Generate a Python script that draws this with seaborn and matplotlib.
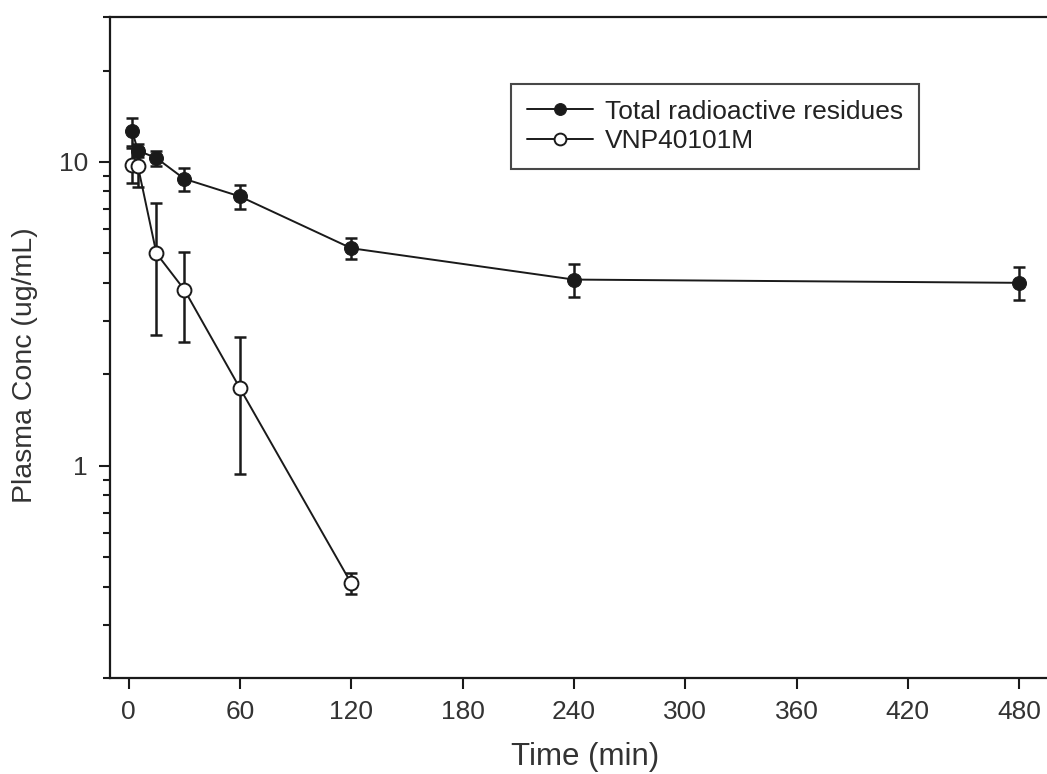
import seaborn as sns
import matplotlib.pyplot as plt
from matplotlib.ticker import FixedLocator, LogLocator, NullFormatter, FixedFormatter

# Plasma concentration vs time (mean +/- SD)
time_total = [2, 5, 15, 30, 60, 120, 240, 480]
conc_total = [12.6, 10.9, 10.3, 8.8, 7.7, 5.2, 4.1, 4.0]
sd_total = [1.35, 0.55, 0.6, 0.75, 0.7, 0.4, 0.5, 0.5]

time_vnp = [2, 5, 15, 30, 60, 120]
conc_vnp = [9.8, 9.7, 5.0, 3.8, 1.8, 0.41]
sd_vnp = [1.3, 1.4, 2.3, 1.25, 0.86, 0.032]

labels = ['Total radioactive residues', 'VNP40101M']
xticks = [0, 60, 120, 180, 240, 300, 360, 420, 480]

sns.set_theme(style='ticks')
plt.rcParams['font.family'] = ['Liberation Sans', 'DejaVu Sans']
ink = '#1a1a1a'

fig = plt.figure(figsize=(10.47, 7.74), dpi=100)
ax = fig.add_axes([0.1051, 0.124, 0.8949, 0.854])

# error bars first, lines and markers on top
ax.errorbar(time_total, conc_total, yerr=sd_total, fmt='none', ecolor=ink,
            elinewidth=1.8, capsize=4.5, capthick=1.8, zorder=2)
ax.errorbar(time_vnp, conc_vnp, yerr=sd_vnp, fmt='none', ecolor=ink,
            elinewidth=1.8, capsize=4.5, capthick=1.8, zorder=2)

sns.lineplot(x=time_total, y=conc_total, ax=ax, color=ink, linewidth=1.4,
             marker='o', markersize=10, markerfacecolor=ink, markeredgecolor=ink,
             label=labels[0], zorder=3)
sns.lineplot(x=time_vnp, y=conc_vnp, ax=ax, color=ink, linewidth=1.4,
             marker='o', markersize=10, markerfacecolor='white', markeredgecolor=ink,
             markeredgewidth=1.4, label=labels[1], zorder=4)

ax.set_yscale('log')
ax.set_ylim(0.2, 30)
ax.set_xlim(-10, 495)

ax.xaxis.set_major_locator(FixedLocator(xticks))
ax.yaxis.set_major_locator(FixedLocator([1, 10]))
ax.yaxis.set_major_formatter(FixedFormatter(['1', '10']))
ax.yaxis.set_minor_locator(LogLocator(base=10, subs=range(2, 10)))
ax.yaxis.set_minor_formatter(NullFormatter())

ax.tick_params(axis='both', which='major', direction='out', length=8, width=1.5,
               color=ink, labelsize=19, labelcolor='#333333', pad=8)
ax.tick_params(axis='y', which='minor', direction='out', length=5, width=1.5, color=ink)

for side in ['left', 'bottom', 'top']:
    ax.spines[side].set_color(ink)
    ax.spines[side].set_linewidth(1.6)
ax.spines['right'].set_visible(False)

ax.set_xlabel('Time (min)', fontsize=22.5, color='#333333', ha='center', va='center')
ax.set_ylabel('Plasma Conc (ug/mL)', fontsize=20.5, color='#333333', ha='center', va='center')
ax.xaxis.set_label_coords(0.507, -0.1195)
ax.yaxis.set_label_coords(-0.0907, 0.4735)

leg = ax.legend(loc='upper left', bbox_to_anchor=(0.428, 0.899), fontsize=19,
                frameon=True, fancybox=False, handlelength=2.5, handletextpad=0.45,
                labelspacing=0.2, borderpad=0.6, borderaxespad=0, markerscale=0.85)
leg.get_frame().set_edgecolor(ink)
leg.get_frame().set_linewidth(1.5)
for t in leg.get_texts():
    t.set_color('#222222')

fig.savefig('out.png', dpi=100)
